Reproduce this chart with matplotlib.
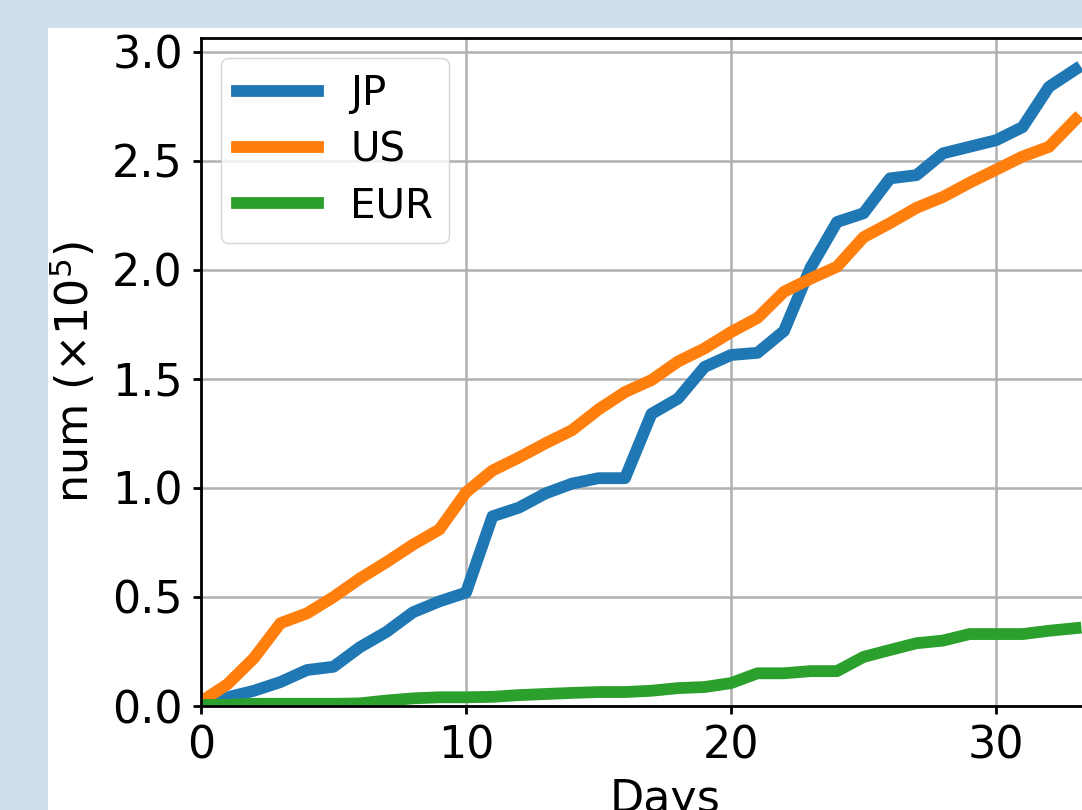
import matplotlib
matplotlib.use('Agg')
import matplotlib.pyplot as plt
from matplotlib.patches import Rectangle
import numpy as np

days = np.arange(34)

jp = [0.02, 0.04, 0.07, 0.11, 0.165, 0.18, 0.27, 0.34, 0.43, 0.48,
      0.52, 0.87, 0.91, 0.975, 1.02, 1.045, 1.045, 1.34, 1.41, 1.555,
      1.61, 1.62, 1.72, 2.01, 2.22, 2.26, 2.42, 2.435, 2.535, 2.565,
      2.595, 2.655, 2.84, 2.92]
us = [0.02, 0.10, 0.22, 0.38, 0.425, 0.50, 0.585, 0.66, 0.74, 0.81,
      0.98, 1.08, 1.14, 1.205, 1.265, 1.36, 1.44, 1.495, 1.58, 1.64,
      1.715, 1.78, 1.90, 1.96, 2.015, 2.15, 2.215, 2.285, 2.335, 2.40,
      2.46, 2.52, 2.565, 2.69]
eur = [0.005, 0.005, 0.01, 0.01, 0.01, 0.01, 0.012, 0.025, 0.035, 0.04,
       0.04, 0.042, 0.05, 0.055, 0.06, 0.064, 0.064, 0.07, 0.082, 0.087,
       0.105, 0.15, 0.15, 0.16, 0.16, 0.225, 0.257, 0.288, 0.30, 0.33,
       0.33, 0.33, 0.345, 0.357]

W, H = 1082, 810
fig = plt.figure(figsize=(W / 100, H / 100), dpi=100, facecolor='#cfdfee')
fig.patches.append(Rectangle((48 / W, 0), 1, (H - 28) / H, transform=fig.transFigure,
                             facecolor='white', edgecolor='none', zorder=-10))

ax = fig.add_axes([201 / W, (H - 706) / H, 927.5 / W, 668 / H])
ax.plot(days, jp, lw=8.5, label='JP')
ax.plot(days, us, lw=8.5, label='US')
ax.plot(days, eur, lw=8.5, label='EUR')

ax.set_xlim(0, 35)
ax.set_ylim(0, 3.064)
ax.set_xticks([0, 10, 20, 30])
ax.set_yticks([0, 0.5, 1.0, 1.5, 2.0, 2.5, 3.0])
ax.grid(True, color='#b0b0b0', lw=1.8)
for s in ax.spines.values():
    s.set_linewidth(2)
ax.tick_params(labelsize=32, length=6, width=2, pad=7)
ax.set_xlabel('Days', fontsize=32, labelpad=8)
ax.set_ylabel('num (×10$^5$)', fontsize=32, labelpad=10)
ax.legend(loc='upper left', fontsize=29, labelspacing=0.4)

fig.savefig('out.png', dpi=100, facecolor=fig.get_facecolor())
